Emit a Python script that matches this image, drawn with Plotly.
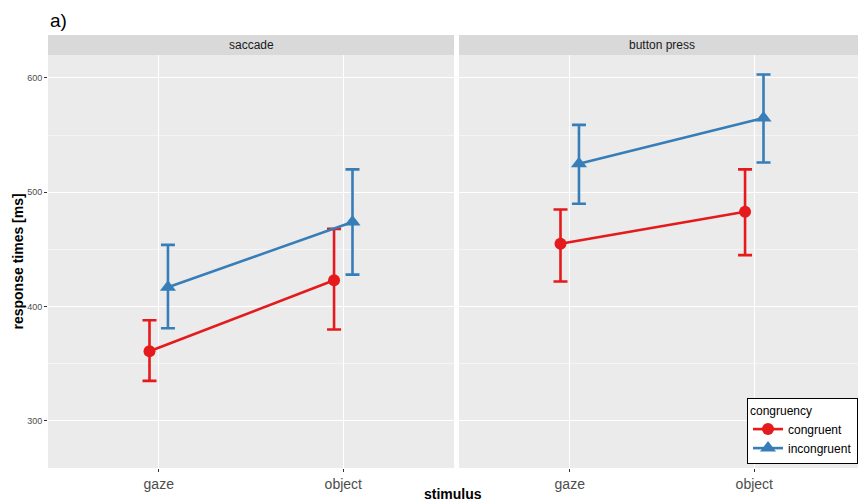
import plotly.graph_objects as go

stimuli = ["gaze", "object"]
panels = ["saccade", "button press"]
groups = ["congruent", "incongruent"]

# mean response times [ms] per panel, group, stimulus
means = {
    ("saccade", "congruent"): [361, 423],
    ("saccade", "incongruent"): [417, 474],
    ("button press", "congruent"): [455, 483],
    ("button press", "incongruent"): [525, 565],
}
upper = {
    ("saccade", "congruent"): [388, 468],
    ("saccade", "incongruent"): [454, 520],
    ("button press", "congruent"): [485, 520],
    ("button press", "incongruent"): [559, 603],
}
lower = {
    ("saccade", "congruent"): [335, 380],
    ("saccade", "incongruent"): [381, 428],
    ("button press", "congruent"): [422, 445],
    ("button press", "incongruent"): [490, 526],
}

colors = {"congruent": "#e41a1c", "incongruent": "#377eb8"}
symbols = {"congruent": "circle", "incongruent": "triangle-up"}
msize = {"congruent": 12, "incongruent": 14}
dodge = {"congruent": -0.05, "incongruent": 0.05}

fig = go.Figure()
base = list(range(1, len(stimuli) + 1))
for pi, panel in enumerate(panels):
    xa = "x" if pi == 0 else "x2"
    ya = "y" if pi == 0 else "y2"
    for g in groups:
        m = means[(panel, g)]
        up = [u - v for u, v in zip(upper[(panel, g)], m)]
        lo = [v - l for v, l in zip(m, lower[(panel, g)])]
        fig.add_trace(go.Scatter(
            x=[b + dodge[g] for b in base], y=m,
            mode="lines+markers", name=g,
            line=dict(color=colors[g], width=2.6),
            marker=dict(symbol=symbols[g], size=msize[g], color=colors[g]),
            error_y=dict(type="data", symmetric=False, array=up, arrayminus=lo,
                         color=colors[g], thickness=2.6, width=7),
            xaxis=xa, yaxis=ya, showlegend=(pi == 0), legendgroup=g,
        ))

W, H = 858, 504
ml, mr, mt, mb = 48, 0, 35, 36
pw = W - ml - mr
ph = H - mt - mb
d1 = 406 / pw
d2s = (459 - ml) / pw
ytop = (468 - 55) / ph

xcommon = dict(tickvals=base, ticktext=stimuli, showgrid=True, gridcolor="white",
               gridwidth=1.1, zeroline=False, ticks="outside", ticklen=3,
               tickcolor="#333333", tickfont=dict(size=14, color="#4d4d4d",
                                                  family="Liberation Sans, Arial"),
               showline=False, automargin=False)
ycommon = dict(range=[258.8, 620.1], dtick=100, tick0=0, showgrid=True,
               gridcolor="white", gridwidth=1.1, zeroline=False,
               minor=dict(dtick=50, tick0=0, showgrid=True, gridcolor="#f5f5f5",
                          gridwidth=0.6),
               domain=[0, ytop], automargin=False)

fig.update_layout(
    width=W, height=H,
    margin=dict(l=ml, r=mr, t=mt, b=mb, autoexpand=False),
    paper_bgcolor="white", plot_bgcolor="#ebebeb",
    font=dict(family="Liberation Sans, Arial", color="#1a1a1a"),
    xaxis=dict(domain=[0, d1], range=[0.4, 2.6], **xcommon),
    xaxis2=dict(domain=[d2s, 1], range=[0.4, 2.6 - 7 / 184.5], anchor="y2", **xcommon),
    yaxis=dict(**ycommon, ticks="outside", ticklen=3, tickcolor="#333333",
               tickfont=dict(size=9, color="#4d4d4d")),
    yaxis2=dict(**ycommon, anchor="x2", matches="y", showticklabels=False, ticks=""),
    legend=dict(x=1, y=(468 - 398) / ph, xanchor="right", yanchor="top",
                bgcolor="white", bordercolor="black", borderwidth=1,
                title=dict(text="congruency", font=dict(size=12, color="black")),
                font=dict(size=12, color="black"), tracegroupgap=0,
                itemwidth=30),
    shapes=[
        dict(type="rect", xref="paper", yref="paper", x0=0, x1=d1, y0=ytop, y1=1,
             fillcolor="#d9d9d9", line=dict(width=0), layer="below"),
        dict(type="rect", xref="paper", yref="paper", x0=d2s, x1=1, y0=ytop, y1=1,
             fillcolor="#d9d9d9", line=dict(width=0), layer="below"),
    ],
    annotations=[
        dict(text=panels[0], xref="paper", yref="paper", x=d1 / 2, y=(1 + ytop) / 2,
             xanchor="center", yanchor="middle",
             showarrow=False, font=dict(size=12, color="#1a1a1a")),
        dict(text=panels[1], xref="paper", yref="paper", x=(d2s + 1 + 7 / pw) / 2,
             y=(1 + ytop) / 2, xanchor="center", yanchor="middle",
             showarrow=False, font=dict(size=12, color="#1a1a1a")),
        dict(text="a)", xref="paper", yref="paper", x=0, y=1, xanchor="left",
             yanchor="bottom", yshift=2, showarrow=False,
             font=dict(size=19, color="black")),
        dict(text="<b>stimulus</b>", xref="paper", yref="paper", x=(453 - ml) / pw,
             y=0, yshift=-26, xanchor="center", yanchor="middle", showarrow=False,
             font=dict(size=14, color="black")),
        dict(text="<b>response times [ms]</b>", xref="paper", yref="paper",
             x=(17 - ml) / pw, y=ytop / 2, xanchor="center", yanchor="middle",
             textangle=-90, showarrow=False, font=dict(size=14, color="black")),
    ],
)

fig.write_html("out.html", config={"displayModeBar": False},
               post_script="document.body.style.margin='0';document.body.style.overflow='hidden';")
